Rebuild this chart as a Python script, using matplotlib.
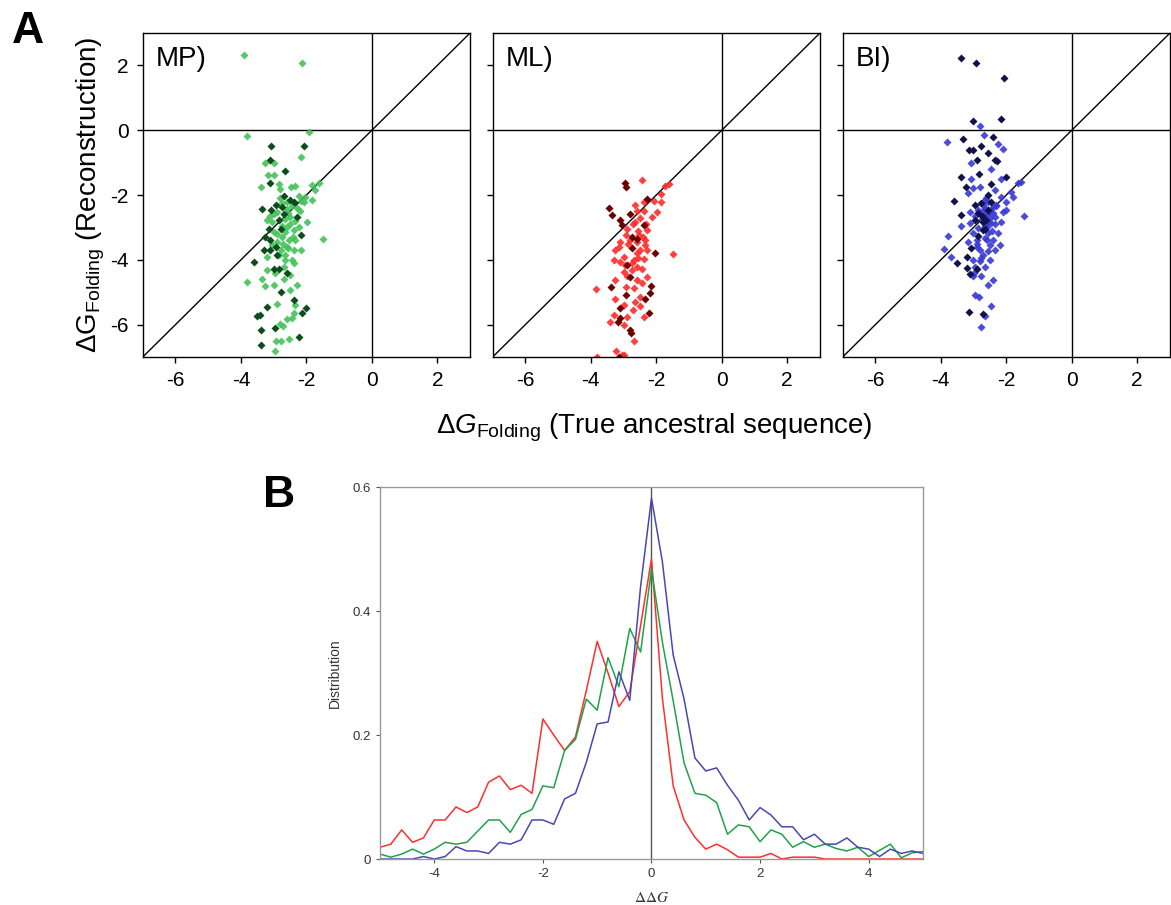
import numpy as np
import matplotlib
matplotlib.use("Agg")
import matplotlib.pyplot as plt

plt.rcParams['font.family'] = ['Liberation Sans', 'DejaVu Sans']
plt.rcParams['mathtext.fontset'] = 'custom'
plt.rcParams['mathtext.rm'] = 'Liberation Sans'
plt.rcParams['mathtext.it'] = 'Liberation Sans:italic'
plt.rcParams['axes.unicode_minus'] = False

# ---- panel A data: (true, reconstructed) dG folding ----
mp_light_x = [-3.91, -2.13, -3.81, -1.91, -2.18, -3.25, -2.99, -3.17, -2.99, -3.40, -2.84, -2.82, -2.46,
              -2.34, -1.83, -1.62, -1.73, -1.83, -2.23, -2.18, -2.08, -2.03, -2.59, -2.89, -3.20, -3.05,
              -2.64, -2.49, -1.98, -1.50, -2.99, -2.59, -2.39, -2.23, -2.89, -2.74, -2.54, -2.34, -2.79,
              -2.59, -2.39, -2.18, -3.20, -2.64, -2.44, -2.64, -2.39, -2.69, -3.20, -3.35, -3.81, -2.69,
              -2.49, -2.99, -3.25, -2.49, -2.28, -2.34, -2.39, -2.44, -2.89, -2.59, -2.82, -2.71, -2.92,
              -2.79, -2.54, -2.97, -2.60, -2.50, -2.90, -2.70, -2.30, -2.80, -3.00, -2.40, -2.55, -2.75,
              -3.05, -2.45, -2.65, -2.85, -2.95, -2.35, -2.75, -3.10, -2.55, -2.20]
mp_light_y = [2.33, 2.08, -0.19, -0.07, -0.84, -1.01, -1.01, -1.38, -1.37, -1.76, -1.66, -1.81, -1.76,
              -1.71, -1.68, -1.64, -1.86, -2.14, -2.02, -2.17, -2.22, -2.07, -2.43, -2.53, -2.78, -2.84,
              -2.73, -2.68, -2.84, -3.35, -3.14, -2.99, -3.09, -2.99, -3.45, -3.30, -3.40, -3.40, -3.71,
              -3.60, -3.71, -3.71, -3.91, -3.86, -4.01, -4.01, -4.11, -4.22, -4.30, -4.58, -4.68, -4.58,
              -4.47, -4.78, -4.80, -4.93, -4.78, -5.39, -5.65, -5.80, -5.36, -5.83, -5.98, -6.04, -6.52,
              -6.52, -6.45, -6.81, -2.20, -2.90, -3.20, -3.50, -2.40, -2.10, -2.60, -3.30, -2.55, -2.95,
              -3.55, -2.35, -3.15, -3.85, -4.40, -2.80, -2.25, -2.65, -3.65, -2.50]
mp_dark_x = [-3.09, -2.08, -3.10, -2.66, -3.10, -2.69, -2.49, -2.39, -2.94, -3.08, -2.74, -2.69, -3.35,
             -2.84, -2.28, -3.15, -2.79, -2.18, -3.25, -3.10, -3.30, -3.10, -2.94, -2.89, -3.60, -2.99,
             -2.84, -2.59, -2.79, -2.39, -2.13, -2.01, -3.20, -3.50, -3.42, -2.96, -3.38, -2.23, -3.38]
mp_dark_y = [-0.50, -0.50, -0.92, -1.27, -1.63, -2.04, -2.14, -2.22, -2.32, -2.45, -2.37, -2.58, -2.43,
             -2.78, -2.68, -3.04, -3.04, -3.24, -3.30, -3.40, -3.71, -3.71, -3.60, -3.86, -4.06, -4.27,
             -4.27, -4.42, -4.98, -5.24, -5.65, -5.50, -5.47, -5.73, -5.70, -6.11, -6.16, -6.39, -6.64]

ml_light_x = [-2.44, -1.73, -1.60, -1.85, -1.86, -2.08, -2.39, -2.64, -2.59, -2.39, -1.98, -2.13, -2.89,
              -2.64, -2.28, -2.94, -2.54, -2.34, -2.59, -3.10, -3.25, -2.49, -1.50, -2.28, -3.30, -3.10,
              -2.69, -2.39, -2.44, -2.74, -2.59, -2.99, -3.25, -2.59, -2.28, -3.83, -2.94, -2.69, -2.49,
              -3.25, -2.99, -2.49, -3.30, -3.40, -2.89, -2.39, -2.99, -2.67, -3.22, -3.81, -3.05, -2.98,
              -2.70, -2.50, -2.85, -2.60, -2.40, -3.00, -2.75, -2.55, -2.30, -2.90, -2.65, -2.45,
              -2.80, -3.15, -2.35, -2.95, -2.70, -2.55]
ml_light_y = [-1.54, -1.71, -1.66, -1.97, -2.22, -2.17, -2.22, -2.32, -2.48, -2.48, -2.53, -2.68, -3.04,
              -2.84, -3.09, -3.24, -3.24, -3.40, -3.45, -3.45, -3.71, -3.71, -3.81, -3.71, -4.01, -4.06,
              -4.01, -3.96, -4.27, -4.32, -4.22, -4.37, -4.63, -4.63, -4.52, -4.90, -4.83, -4.88, -5.14,
              -5.22, -5.39, -5.42, -5.70, -5.91, -5.75, -5.75, -6.01, -6.52, -6.81, -7.01, -6.95, -6.95,
              -2.90, -2.70, -3.50, -3.80, -3.30, -3.90, -4.10, -3.10, -2.90, -4.50, -5.30, -4.70,
              -3.40, -3.60, -3.55, -4.15, -5.55, -3.95]
ml_dark_x = [-2.96, -2.92, -2.28, -3.45, -3.35, -2.79, -3.12, -3.05, -2.39, -2.74, -2.59, -2.74, -2.03,
             -2.89, -2.79, -2.16, -3.38, -2.94, -2.18, -2.34, -3.10, -2.23, -3.17, -3.12, -2.81, -2.77,
             -3.15]
ml_dark_y = [-1.64, -1.76, -2.12, -2.41, -2.63, -2.58, -2.78, -2.91, -2.94, -3.30, -3.35, -3.65, -3.79,
             -4.17, -4.54, -4.80, -4.83, -5.09, -5.02, -5.22, -5.50, -5.65, -5.91, -5.80, -6.18, -6.26,
             -7.00]

bi_light_x = [-2.79, -2.68, -3.80, -2.25, -2.10, -3.07, -2.46, -3.07, -2.15, -1.64, -1.54, -1.85, -3.02,
              -2.81, -3.17, -2.35, -2.15, -2.00, -1.80, -2.66, -2.30, -3.37, -3.12, -2.71, -2.51, -2.36,
              -2.10, -2.00, -1.47, -2.46, -2.15, -3.02, -2.86, -2.56, -2.25, -3.78, -3.17, -2.91, -2.66,
              -2.41, -2.20, -3.90, -2.81, -2.56, -2.35, -3.68, -3.02, -2.76, -2.51, -2.96, -2.66, -2.78,
              -3.02, -2.41, -2.56, -2.96, -2.84, -2.46, -2.66, -2.78,
              -2.60, -2.50, -2.70, -2.40, -2.55, -2.65, -2.45, -2.75, -2.85, -2.35, -2.60, -2.90, -2.70,
              -2.50, -2.80, -3.00, -2.30, -2.55, -2.65, -2.95, -2.45, -2.58, -2.72, -3.10, -2.88, -2.62]
bi_light_y = [0.12, -0.15, -0.36, -0.41, -0.59, -1.01, -1.21, -1.51, -1.49, -1.64, -1.59, -1.90, -1.79,
              -1.74, -1.95, -1.85, -2.05, -2.21, -2.05, -2.15, -2.31, -2.97, -2.51, -2.67, -2.51, -2.67,
              -2.51, -2.46, -2.65, -2.87, -2.82, -3.18, -3.03, -3.18, -3.18, -3.28, -3.44, -3.38, -3.33,
              -3.38, -3.54, -3.67, -3.69, -3.74, -3.69, -3.90, -4.00, -3.95, -4.00, -4.21, -4.21, -4.51,
              -4.51, -4.62, -4.79, -5.10, -5.15, -5.41, -5.72, -6.08,
              -2.60, -2.70, -2.50, -2.55, -2.85, -2.95, -2.40, -2.75, -2.45, -2.90, -3.00, -3.60, -3.85,
              -3.55, -4.05, -4.40, -2.35, -2.20, -2.40, -2.65, -3.10, -3.40, -2.30, -2.85, -3.50, -2.10]
bi_dark_x = [-3.39, -2.94, -2.08, -2.15, -3.02, -3.32, -2.41, -2.76, -3.14, -3.02, -2.56, -2.35, -2.28,
             -2.91, -2.84, -3.37, -2.00, -2.46, -3.22, -3.59, -2.56, -2.96, -2.76, -2.46, -3.37, -2.86,
             -2.71, -2.61, -2.96, -2.71, -3.07, -3.19, -3.52, -3.19, -2.91, -3.12, -3.15, -2.71,
             -2.75, -2.55, -2.65, -2.85]
bi_dark_y = [2.24, 2.07, 1.61, 0.34, 0.29, -0.28, -0.21, -0.49, -0.62, -0.62, -0.69, -0.92, -0.94,
             -0.92, -1.35, -1.44, -1.44, -1.67, -1.74, -2.18, -2.00, -2.31, -2.26, -2.21, -2.62, -2.56,
             -2.82, -2.77, -2.77, -3.08, -3.64, -3.92, -4.10, -4.26, -4.29, -4.44, -5.62, -5.66,
             -2.65, -2.45, -3.05, -3.25]

panels = [
    ("MP)", mp_light_x, mp_light_y, mp_dark_x, mp_dark_y, '#45c25a', '#0c4d1b'),
    ("ML)", ml_light_x, ml_light_y, ml_dark_x, ml_dark_y, '#ff2b2b', '#6e0000'),
    ("BI)", bi_light_x, bi_light_y, bi_dark_x, bi_dark_y, '#3838d4', '#12124a'),
]

# ---- panel B data: distribution of ddG ----
ddg = np.round(np.arange(-5.0, 5.01, 0.2), 1)
dist_red = [0.019, 0.024, 0.047, 0.027, 0.034, 0.063, 0.063, 0.084, 0.075, 0.084, 0.124, 0.134, 0.112,
            0.119, 0.106, 0.226, 0.200, 0.175, 0.197, 0.272, 0.351, 0.300, 0.246, 0.270, 0.377, 0.484,
            0.260, 0.118, 0.063, 0.035, 0.016, 0.024, 0.015, 0.003, 0.003, 0.003, 0.009, 0.0, 0.003,
            0.003, 0.003, 0.0, 0.0, 0.0, 0.0, 0.0, 0.0, 0.0, 0.0, 0.0, 0.0]
dist_green = [0.008, 0.003, 0.008, 0.016, 0.008, 0.016, 0.027, 0.024, 0.027, 0.045, 0.063, 0.063, 0.043,
              0.072, 0.080, 0.118, 0.115, 0.175, 0.193, 0.258, 0.240, 0.325, 0.278, 0.372, 0.334, 0.468,
              0.350, 0.255, 0.155, 0.106, 0.103, 0.091, 0.040, 0.055, 0.052, 0.028, 0.047, 0.040, 0.019,
              0.028, 0.019, 0.024, 0.017, 0.013, 0.019, 0.004, 0.014, 0.024, 0.002, 0.010, 0.012]
dist_blue = [0.0, 0.0, 0.0, 0.0, 0.004, 0.0, 0.004, 0.020, 0.013, 0.013, 0.009, 0.027, 0.024, 0.031,
             0.063, 0.063, 0.056, 0.097, 0.106, 0.156, 0.218, 0.221, 0.302, 0.256, 0.440, 0.582, 0.480,
             0.329, 0.258, 0.163, 0.142, 0.147, 0.119, 0.095, 0.063, 0.083, 0.071, 0.052, 0.052, 0.031,
             0.040, 0.024, 0.024, 0.034, 0.019, 0.016, 0.004, 0.016, 0.009, 0.013, 0.009]

fig = plt.figure(figsize=(11.71, 9.05), dpi=100)

lefts = [0.1219, 0.4207, 0.7196]
for i, (name, lx, ly, dx, dy, c_light, c_dark) in enumerate(panels):
    ax = fig.add_axes([lefts[i], 0.6055, 0.2795, 0.358])
    ax.plot([-7, 3], [-7, 3], color='black', lw=1)
    ax.axhline(0, color='black', lw=1)
    ax.axvline(0, color='black', lw=1)
    ax.plot(lx, ly, 'D', ms=4.0, color=c_light, mec='none', alpha=0.9)
    ax.plot(dx, dy, 'D', ms=4.0, color=c_dark, mec='none')
    ax.set_xlim(-7, 3)
    ax.set_ylim(-7, 3)
    ax.set_xticks([-6, -4, -2, 0, 2])
    ax.set_yticks([-6, -4, -2, 0, 2])
    ax.tick_params(direction='out', length=4, width=1, labelsize=15, pad=6)
    if i > 0:
        ax.set_yticklabels([])
    for s in ax.spines.values():
        s.set_linewidth(1)
    ax.text(0.04, 0.96, name, transform=ax.transAxes, fontsize=20, va='top', ha='left')

fig.text(0.559, 0.527, r'$\Delta G_{\mathrm{Folding}}$ (True ancestral sequence)',
         fontsize=20, ha='center', va='center')
fig.text(0.078, 0.785, r'$\Delta \mathrm{G}_{\mathrm{Folding}}$ (Reconstruction)',
         fontsize=20, ha='center', va='center', rotation=90)
fig.text(0.010, 0.965, 'A', fontsize=32, fontweight='bold', va='center')
fig.text(0.225, 0.452, 'B', fontsize=32, fontweight='bold', va='center')

# ---- panel B ----
axb = fig.add_axes([0.3245, 0.0508, 0.4637, 0.411])
axb.axvline(0, color='#555555', lw=1)
axb.plot(ddg, dist_red, color='#ff2e2e', lw=1.1)
axb.plot(ddg, dist_green, color='#1fa34a', lw=1.1)
axb.plot(ddg, dist_blue, color='#4848b0', lw=1.1)
axb.set_xlim(-5, 5)
axb.set_ylim(0, 0.6)
axb.set_xticks([-4, -2, 0, 2, 4])
axb.set_yticks([0, 0.2, 0.4, 0.6])
axb.set_yticklabels(['0', '0.2', '0.4', '0.6'])
axb.tick_params(direction='out', length=3, width=0.8, colors='#555555', labelcolor='#333333',
                labelsize=9.5)
for s in axb.spines.values():
    s.set_color('#999999')
    s.set_linewidth(1)
axb.set_ylabel('Distribution', fontsize=10, color='#333333', labelpad=8)
axb.set_xlabel(r'$\Delta\Delta G$', fontsize=11, color='#333333', labelpad=8, math_fontfamily='stix')

fig.savefig('out.png', dpi=100)
